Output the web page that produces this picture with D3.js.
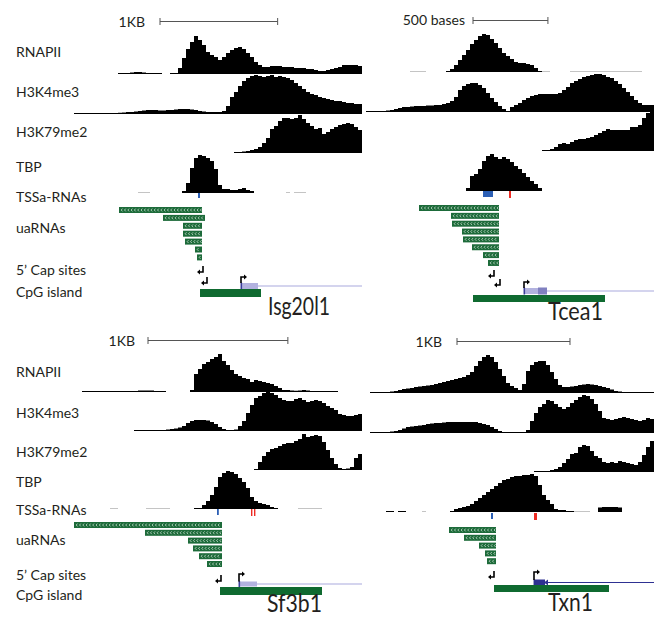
<!DOCTYPE html>
<html><head><meta charset="utf-8">
<script src="https://cdn.jsdelivr.net/npm/d3@7"></script>
<style>
body{margin:0;background:#fff}
svg{display:block}
text{font-family:Lato,"Open Sans",sans-serif;fill:#231f20}
</style>
</head><body>
<svg id="c" width="655" height="617"></svg>
<script>
// ---------------- DATA ----------------
const rowLabels = ["RNAPII","H3K4me3","H3K79me2","TBP","TSSa-RNAs","uaRNAs","5\u2019 Cap sites","CpG island"];
const geneNames = ["Isg20l1","Tcea1","Sf3b1","Txn1"];
const scaleLabels = ["1KB","500 bases","1KB","1KB"];
const scaleBp = [1000,500,1000,1000];
const binBp = [34,26.7,28.6,35.4];   // bp per bin (72 bins per locus)

// signal tracks: null = no coverage, 0 = faint (grey) coverage
const isgRNAPII = [null,null,null,null,null,null,null,null,null,null,null,
 0.5,0.5,1,1.5,2,2,1.5,1,0.5,0.5,0.5,null,null,
 1,1,6,16,25,32,38,34,29,22,19,17,14,17,21,24,26,27,25,21,17,12,9,7,7,8,8,8,7,7,7,6,6,6,5,5,4,3,3,4,5,6,7,9,9,9,9,8];
const isgH3K4me3 = [0.3,0.3,0.3,0.3,0.3,0.3,0.5,1,0.8,1,
 1,1.3,1.5,2,2,2.5,3,3.5,4,4,
 4,3.5,3.5,4,4,4.5,5,5,5,4.5,
 4,3,2.5,2,2,2,2,3,8,17,
 22,28,33,36,38,39,38,37,38,39,
 37,38,37,36,34,31,28,25,22,20,
 19,17,16,15,14,13,13,12,11,11,10,10];
const isgH3K79me2 = [null,null,null,null,null,null,null,null,null,null,
 null,null,null,null,null,null,null,null,null,null,
 null,null,null,null,null,null,null,null,null,null,
 null,null,null,null,null,null,null,null,null,null,
 1,1,1.5,2,3,4,6,10,15,24,
 27,32,35,35,34,35,38,34,30,27,
 24,25,19,21,24,26,28,29,30,29,26,23];
const isgTBP = [null,null,null,null,null,null,null,null,null,null,null,null,null,null,null,null,
 0,0,0,null,null,null,null,null,null,null,null,
 2,10,25,35,38,37,35,32,24,8,4,4,3,3,4,5,3,2,
 null,null,null,null,null,null,null,null,0,null,0,0,0,
 null,null,null,null,null,null,null,null,null,null,null,null,null,null];

const tceaRNAPII = [null,null,null,null,null,null,null,null,null,null,null,
 0,0,0,0,null,null,null,null,null,
 1,3,7,12,17,22,28,32,36,38,37,33,29,24,19,16,13,10,9,9,8,7,4,1,
 0,0,null,null,null,null,null,
 0,0,0,0,0,0,0,0,0,0,0,0,0,0,0,0,0,0,null,null,null];
const tceaH3K4me3 = [0.3,0.3,0.5,0.5,1,1.5,2,3,4,5,
 5,5.5,6,6,6,6.5,6.5,7,7,8,
 9,11,15,22,26,28,29,29,27,24,
 19,14,10,6,3,0.5,5,7,9,12,
 14,16,17,18,18,18,18,18,19,22,
 25,29,31,33,35,36,37,38,38,37,
 35,34,31,28,24,20,16,12,9,7,7,7];
const tceaH3K79me2 = [null,null,null,null,null,null,null,null,null,null,
 null,null,null,null,null,null,null,null,null,null,
 null,null,null,null,null,null,null,null,null,null,
 null,null,null,null,null,null,null,null,null,null,null,null,null,null,
 1,1,2,4,7,8,7,9,11,12,
 12,13,14,16,18,20,22,21,21,21,
 21,21,24,24,26,33,38,39];
const tceaTBP = [null,null,null,null,null,null,null,null,null,null,
 null,null,null,null,null,null,null,null,null,null,null,null,null,null,null,
 3,15,17,22,30,35,37,34,32,34,32,29,25,22,18,14,10,7,3,
 null,null,null,null,null,null,null,null,null,null,null,null,null,null,
 null,null,null,null,null,null,null,null,null,null,null,null,null,null];

const sf3RNAPII = [null,null,
 0.5,0.5,0.5,0.5,0.5,0.5,0.5,0.5,0.5,0.5,0.5,0.5,0.5,0.5,1.5,1.5,1.5,1.5,0.5,0.5,0.5,
 null,null,null,null,null,null,
 2,18,23,28,30,33,35,38,31,27,22,18,16,14,13,10,12,11,10,9,8,6,4,2,2,1.5,1.3,1.5,2,1.5,1,1,1,0.8,0.8,0.5,0.5,
 null,null,null,null,null,null];
const sf3H3K4me3 = [null,null,null,null,null,null,null,null,null,null,null,null,null,null,null,
 0.5,0.5,0.5,0.5,0.5,0.5,0.8,1,1.5,2,
 2.5,3.5,5,8,10,11,11,11,10.5,9,
 7,4,2,0.5,0.5,1.5,5,10,18,26,
 33,35,38,39,38,36,33,31,30,30,
 32,33,31,29,30,31,30,28,25,23,
 21,17,16,15,15,16,17];
const sf3H3K79me2 = [null,null,null,null,null,null,null,null,null,null,
 null,null,null,null,null,null,null,null,null,null,
 null,null,null,null,null,null,null,null,null,null,
 null,null,null,null,null,null,null,null,null,null,null,null,null,null,null,
 1,8,14,18,21,22,24,26,27,27,
 29,31,36,33,34,35,34,28,20,12,
 6,2,1,1.5,3,12,16];
const sf3TBP = [null,null,null,null,null,null,null,null,null,
 0,0,null,null,null,null,null,null,null,
 0,0,0,0,0,0,null,null,null,null,null,null,
 0.7,1,4,8,14,22,32,36,38,37,35,31,27,21,12,8,6,5,4,2,1,
 null,null,null,null,null,
 0,0,0,0,0,0,
 null,null,null,null,null,null,null,null,null,null];

const txnRNAPII = [null,
 0.7,0.7,0.7,0.7,1,1.5,2,3,4,4.5,
 5,6,6.5,7,7.5,8,9,10,11,12,
 13,14,15,16,18,21,27,32,36,38,
 36,31,24,17,10,7,5,3,9,22,
 28,31,32,32,28,21,14,8,6,6,
 6.5,7,8,8.5,9,8.5,8,7,6,5,
 3.5,2,1.5,1,0.7,0.5,0.5,0.5,0.5,0.5,0.5];
const txnH3K4me3 = [null,
 0.7,0.7,0.7,0.7,1,1.5,2,3,4.5,6,
 6.5,7,7.5,8,9,9.5,10,10,10.5,11,
 11,11,11,11,11,11,11,10,9,8,
 6,4,2,0.7,0.5,0.5,0.5,0.5,0.7,3,
 12,20,26,29,33,32,29,26,24,26,
 30,33,36,38,37,34,29,22,15,14,
 13,14,15,16,15,14,13,12,13,15,14];
const txnH3K79me2 = [null,null,null,null,null,null,null,null,null,null,
 null,null,null,null,null,null,null,null,null,null,
 null,null,null,null,null,null,null,null,null,null,
 null,null,null,null,null,null,null,null,null,null,null,null,
 0.5,0.5,0.5,1,2,3,5,9,13,18,
 19,25,27,26,21,16,14,10,9,10,
 9,11,10,9,8,7,10,17,25,31];
const txnTBP = [null,null,null,null,null,0.8,0.8,null,0.8,0.8,
 null,null,null,null,0,null,null,null,null,null,null,
 1,3,4,5,6,8,11,14,17,20,23,26,29,32,33,35,36,36,37,37,38,36,27,17,12,8,3,2,2,1,1,
 0,0,0,0,null,null,
 4.5,5,5,5,5,4.5,
 null,null,null,null,null,null,null,null];

// TSSa-RNAs: [start,end] in bins; sense (blue) / antisense (red)
const isgTssaSense = [[31,31.5]];
const isgTssaAnti = [];
const tceaTssaSense = [[29.25,31.75]];
const tceaTssaAnti = [[35.75,36.25]];
const sf3TssaSense = [[35.75,36.2]];
const sf3TssaAnti = [[44.25,44.6],[45,45.35]];
const txnTssaSense = [[31.25,31.75]];
const txnTssaAnti = [[42,42.75]];

// uaRNAs [start,end] (bins), antisense reads
const isgUa = [[11.25,32],[22.25,32.75],[27.25,32],[27.25,32],[27.75,32],[30.25,32],[30.75,32]];
const tceaUa = [[13.25,33.25],[21.25,33.25],[21.5,33.25],[24,33.25],[24.25,33.25],[26.5,33.25],[29.25,33.25],[30.5,33.25]];
const sf3Ua = [[0,37],[17.75,37],[28.5,37],[29.75,37],[31.25,37],[33.25,37]];
const txnUa = [[20.75,32.5],[24.5,32.5],[28.25,32.5],[29.75,32.5],[30.25,32.5]];

// 5' cap sites (bins)
const isgCaps = [32.25,33.25];
const tceaCaps = [32,33.5];
const sf3Caps = [36.75];
const txnCaps = [32];

// CpG islands [start,end]
const isgCpG = [31.5,46.75];
const tceaCpG = [26.75,59.75];
const sf3CpG = [36.5,62];
const txnCpG = [32,60.75];

// gene models: tss, utr end, coding start/end
const isgGene = {tss:41.75, utrEnd:46, cds:null};
const tceaGene = {tss:39.5, utrEnd:43, cds:[43,45.25]};
const sf3Gene = {tss:41.25, utrEnd:45.75, cds:null};
const txnGene = {tss:42, utrEnd:42, cds:[42,44.75]};

// ---------------- LAYOUT ----------------
const loci = [
 {signals:[isgRNAPII,isgH3K4me3,isgH3K79me2,isgTBP], sense:isgTssaSense, anti:isgTssaAnti, ua:isgUa, caps:isgCaps, cpg:isgCpG, gene:isgGene},
 {signals:[tceaRNAPII,tceaH3K4me3,tceaH3K79me2,tceaTBP], sense:tceaTssaSense, anti:tceaTssaAnti, ua:tceaUa, caps:tceaCaps, cpg:tceaCpG, gene:tceaGene},
 {signals:[sf3RNAPII,sf3H3K4me3,sf3H3K79me2,sf3TBP], sense:sf3TssaSense, anti:sf3TssaAnti, ua:sf3Ua, caps:sf3Caps, cpg:sf3CpG, gene:sf3Gene},
 {signals:[txnRNAPII,txnH3K4me3,txnH3K79me2,txnTBP], sense:txnTssaSense, anti:txnTssaAnti, ua:txnUa, caps:txnCaps, cpg:txnCpG, gene:txnGene}
];
const layout = [
 {x0:74, base:[74,114,153,193], scaleY:21.5, scaleStart:21.5, scaleTextX:145, scaleTextY:26.5, tssY:193, tssH:5, uaY:207, uaPitch:7.9,
  capY:266, capPitch:11, boxY:283, boxH:6, lineY:286, arrowTop:277, cpgY:289, cpgH:8, nameX:268, nameY:315, nameW:62, geneColor:"#b2b2df", lineColor:"#aaaade", cdsColor:"#7b7bbd"},
 {x0:366, base:[72,112,151,191], scaleY:20.5, scaleStart:26.75, scaleTextX:465, scaleTextY:25, tssY:191, tssH:6, uaY:205, uaPitch:7.85,
  capY:270, capPitch:9, boxY:288, boxH:6, lineY:291, arrowTop:282, cpgY:295, cpgH:7, nameX:548, nameY:320, nameW:55, geneColor:"#b2b2df", lineColor:"#aaaade", cdsColor:"#8080c0"},
 {x0:74, base:[392,431,470,509], scaleY:340.5, scaleStart:18.5, scaleTextX:135, scaleTextY:345.5, tssY:509, tssH:6, uaY:522, uaPitch:7.8,
  capY:575, capPitch:9, boxY:581.5, boxH:5, lineY:584, arrowTop:574, cpgY:587, cpgH:8, nameX:267, nameY:612, nameW:55, geneColor:"#b2b2df", lineColor:"#aaaade", cdsColor:"#7b7bbd"},
 {x0:366, base:[393,433,472,512], scaleY:341.5, scaleStart:22.75, scaleTextX:442, scaleTextY:347, tssY:513, tssH:6, uaY:527, uaPitch:7.8,
  capY:571, capPitch:9, boxY:580, boxH:5, lineY:582.5, arrowTop:572, cpgY:585, cpgH:7, nameX:548, nameY:611, nameW:45, geneColor:"#2e3192", lineColor:"#2e3192", cdsColor:"#2e3192"}
];
const labelY = [[56.5,96.5,136.5,171.5,201.5,233,275,296.5],[376.5,418,456.5,486.5,515,545,580,600]];
const NB = 72, BINW = 4;

// ---------------- DRAW ----------------
const svg = d3.select("#c");

// row labels
labelY.forEach(ys => {
  svg.append("g").selectAll("text").data(rowLabels).join("text")
    .attr("x",16).attr("y",(d,i)=>ys[i]).attr("font-size",14).text(d=>d);
});

function runsOf(vals){
  const out=[]; let cur=null;
  vals.forEach((v,i)=>{
    if(v===null){cur=null;return;}
    const z = v===0;
    if(!cur || cur.zero!==z){cur={zero:z,pts:[]};out.push(cur);}
    cur.pts.push([i,v]);
  });
  return out;
}

loci.forEach((L,k)=>{
  const P = layout[k];
  const g = svg.append("g");
  const x = d3.scaleLinear().domain([0,NB]).range([P.x0, P.x0+NB*BINW]);

  // scale bar
  const sLen = scaleBp[k]/binBp[k];
  const sx0 = x(P.scaleStart), sx1 = x(P.scaleStart+sLen);
  g.append("line").attr("x1",sx0).attr("x2",sx1).attr("y1",P.scaleY).attr("y2",P.scaleY).attr("stroke","#555").attr("stroke-width",1);
  [sx0,sx1].forEach(xx=>g.append("line").attr("x1",xx).attr("x2",xx).attr("y1",P.scaleY-3.5).attr("y2",P.scaleY+3.5).attr("stroke","#555"));
  g.append("text").attr("x",P.scaleTextX).attr("y",P.scaleTextY).attr("text-anchor","end").attr("font-size",14).text(scaleLabels[k]);

  // signal tracks
  L.signals.forEach((vals,t)=>{
    const base = P.base[t];
    const y = d3.scaleLinear().domain([0,40]).range([base, base-40]);
    const area = d3.area().curve(d3.curveStepAfter).x(d=>x(d[0])).y0(base).y1(d=>y(d[1]));
    runsOf(vals).forEach(r=>{
      const first=r.pts[0][0], last=r.pts[r.pts.length-1][0];
      if(r.zero){
        g.append("rect").attr("x",x(first)).attr("width",x(last+1)-x(first)).attr("y",base-1).attr("height",1).attr("fill","#c4c4c4");
      } else {
        const pts = r.pts.concat([[last+1, r.pts[r.pts.length-1][1]]]);
        g.append("path").attr("d",area(pts)).attr("fill","#000");
        g.append("rect").attr("x",x(first)).attr("width",x(last+1)-x(first)).attr("y",base-1).attr("height",1).attr("fill","#000");
      }
    });
  });

  // TSSa-RNAs
  g.selectAll(".ts").data(L.sense).join("rect").attr("x",d=>x(d[0])).attr("width",d=>x(d[1])-x(d[0]))
    .attr("y",P.tssY).attr("height",P.tssH).attr("fill","#2c5fb5");
  g.selectAll(".ta").data(L.anti).join("rect").attr("x",d=>x(d[0])).attr("width",d=>x(d[1])-x(d[0]))
    .attr("y",P.tssY).attr("height",P.tssH+1).attr("fill","#ee2b24");

  // uaRNAs
  L.ua.forEach((d,i)=>{
    const yy = P.uaY + i*P.uaPitch;
    const xa = x(d[0]), xb = x(d[1]);
    g.append("rect").attr("x",xa).attr("y",yy).attr("width",xb-xa).attr("height",6).attr("fill","#1d6b3a");
    let p = "";
    for(let cx = xa+2.2; cx < xb-1.5; cx += 3.3){
      p += `M${cx+1.3},${yy+1.6}L${cx},${yy+3}L${cx+1.3},${yy+4.4}`;
    }
    g.append("path").attr("d",p).attr("fill","none").attr("stroke","#e2eee4").attr("stroke-width",0.7);
  });

  // 5' cap sites (return arrows)
  L.caps.forEach((c,i)=>{
    const X = x(c), Y = P.capY + i*P.capPitch;
    g.append("path").attr("d",`M${X},${Y}V${Y+6}H${X-3.5}`).attr("fill","none").attr("stroke","#000").attr("stroke-width",1.6);
    g.append("path").attr("d",`M${X-6},${Y+6}L${X-3},${Y+3.5}L${X-3},${Y+8.5}Z`).attr("fill","#000");
  });

  // gene model
  const G = L.gene;
  const lineStart = G.cds ? x(G.cds[1]) : x(G.utrEnd);
  g.append("line").attr("x1",lineStart).attr("x2",x(NB)).attr("y1",P.lineY).attr("y2",P.lineY)
    .attr("stroke",P.lineColor).attr("stroke-width",1.2);
  if(G.utrEnd>G.tss){
    g.append("rect").attr("x",x(G.tss)).attr("y",P.boxY).attr("width",x(G.utrEnd)-x(G.tss)).attr("height",P.boxH).attr("fill",P.geneColor);
  }
  if(G.cds){
    g.append("rect").attr("x",x(G.cds[0])).attr("y",P.boxY-0.5).attr("width",x(G.cds[1])-x(G.cds[0])).attr("height",P.boxH+1).attr("fill",P.cdsColor);
    if(k===3){
      const ax = x(G.cds[1]);
      g.append("path").attr("d",`M${ax-1},${P.lineY}L${ax+3},${P.lineY-3}L${ax+3},${P.lineY+3}Z`).attr("fill",P.cdsColor);
    }
  }
  // TSS arrow
  const TX = x(G.tss);
  g.append("rect").attr("x",TX-0.5).attr("y",P.boxY-0.5).attr("width",1.6).attr("height",P.boxH+1).attr("fill","#2e3192").attr("opacity",0.9);
  g.append("path").attr("d",`M${TX},${P.boxY}V${P.arrowTop}H${TX+3.5}`).attr("fill","none").attr("stroke","#000").attr("stroke-width",1.6);
  g.append("path").attr("d",`M${TX+6},${P.arrowTop}L${TX+3},${P.arrowTop-2.5}L${TX+3},${P.arrowTop+2.5}Z`).attr("fill","#000");

  // CpG island
  g.append("rect").attr("x",x(L.cpg[0])).attr("y",P.cpgY).attr("width",x(L.cpg[1])-x(L.cpg[0])).attr("height",P.cpgH).attr("fill","#0f6a30");

  // gene name
  g.append("text").attr("x",P.nameX).attr("y",P.nameY).attr("font-size",24.5)
    .attr("textLength",P.nameW).attr("lengthAdjust","spacingAndGlyphs").text(geneNames[k]);
});
</script>
</body></html>
